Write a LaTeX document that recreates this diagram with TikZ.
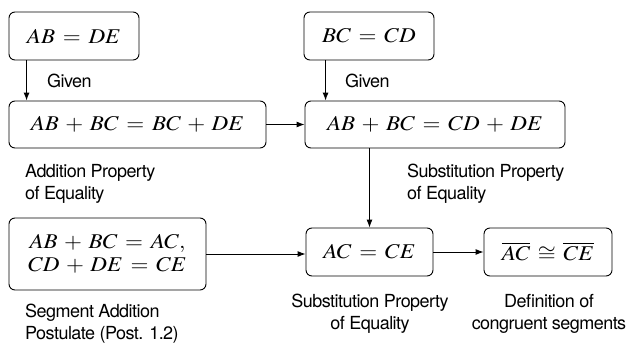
\documentclass[tikz,border=0pt]{standalone}
\usepackage[no-math]{fontspec}
\usepackage{mathptmx}
\usepackage{graphicx}
\newfontfamily\lblfont[LetterSpace=-3]{TeX Gyre Heros}
\newcommand\mth[1]{\scalebox{1.1}[1]{$\medmuskip=5mu\thickmuskip=6mu #1$}}
\usetikzlibrary{arrows.meta,calc}
\begin{document}
\begin{tikzpicture}[x=1pt,y=-1pt,
  box/.style={draw,line width=0.9pt,rounded corners=6pt,inner sep=0pt,font=\fontsize{21}{23}\selectfont},
  lbl/.style={font=\lblfont\fontsize{18}{22}\selectfont,inner sep=0pt},
  arr/.style={line width=0.9pt,-{Latex[length=8pt,width=6pt]}}]
\useasboundingbox (0,0) rectangle (628,345);
\node[box,minimum width=130pt,minimum height=48pt] (b1) at (74,36) {\mth{AB = DE}};
\node[box,minimum width=257pt,minimum height=47pt] (b2) at (137.5,124.5) {\mth{AB + BC = BC + DE}};
\node[box,minimum width=130pt,minimum height=48pt] (b3) at (369,36) {\mth{BC = CD}};
\node[box,minimum width=260pt,minimum height=47pt] (b4) at (435,124.5) {\mth{AB + BC = CD + DE}};
\node[box,minimum width=127pt,minimum height=48pt] (b5) at (369.5,252) {\mth{AC = CE}};
\node[box,minimum width=197pt,minimum height=72pt,align=center] (b6) at (107.5,254) {\mth{AB + BC = AC,}\\[0pt]\mth{CD + DE = CE}};
\node[box,minimum width=128pt,minimum height=48pt] (b7) at (548,252) {\mth{\overline{AC} \cong \overline{CE}}};
\draw[arr] ([xshift=18pt]b1.south west) -- ([xshift=18pt]b2.north west);
\draw[arr] ([xshift=22pt]b3.south west) -- ([xshift=21pt]b4.north west);
\draw[arr] (b2.east) -- (b4.west);
\draw[arr] (b4.south -| b5.north) -- (b5.north);
\draw[arr] (b6.east) -- (b5.west |- b6.east);
\draw[arr] (b5.east) -- (b7.west);
\node[lbl,anchor=west] (g1) at (47,81) {Given};
\node[lbl,anchor=west] (g2) at (345,81) {Given};
\node[lbl,anchor=north west,align=left] (l1) at (25,164) {Addition Property\\of Equality};
\node[lbl,anchor=north west,align=left] (l2) at (407,164) {Substitution Property\\of Equality};
\node[lbl,anchor=north west,align=left] (l3) at (25,304) {Segment Addition\\Postulate (Post. 1.2)};
\node[lbl,anchor=north,align=center] (l4) at (370,294) {Substitution Property\\of Equality};
\node[lbl,anchor=north,align=center] (l5) at (549,294) {Definition of\\congruent segments};
\end{tikzpicture}
\end{document}
